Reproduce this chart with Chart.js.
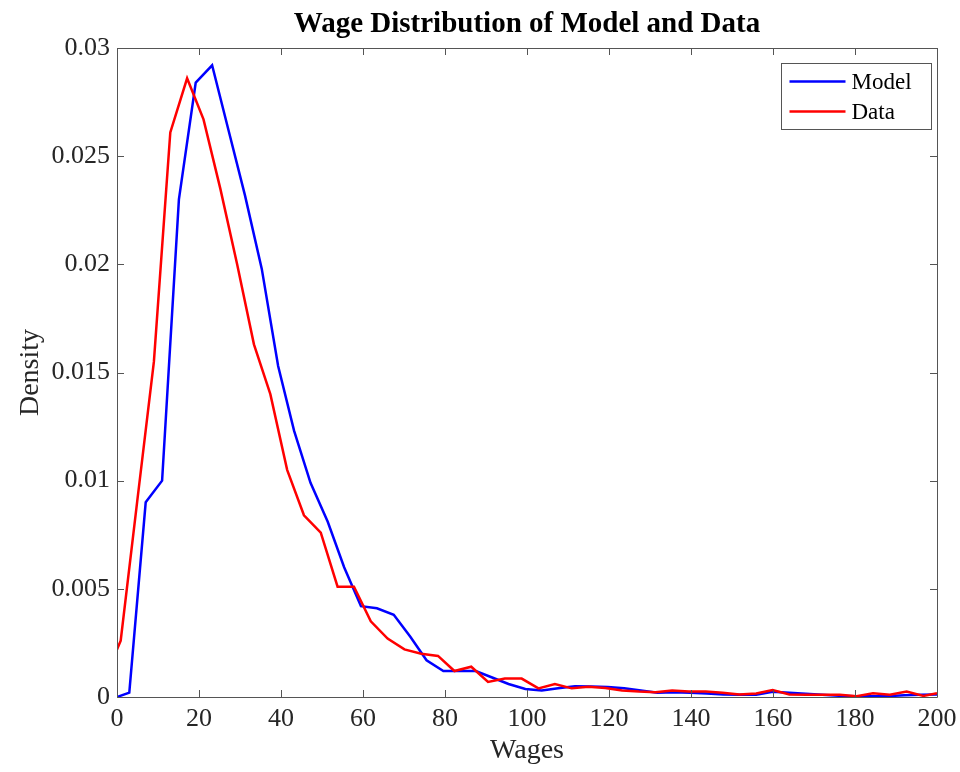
<!DOCTYPE html>
<html>
<head>
<meta charset="utf-8">
<script src="https://cdn.jsdelivr.net/npm/chart.js@4.4.1/dist/chart.umd.min.js"></script>
<style>
  html, body { margin: 0; padding: 0; background: #fff; }
  #wrap { width: 960px; height: 772px; }
</style>
</head>
<body>
<div id="wrap"><canvas id="c" width="960" height="772"></canvas></div>
<script>
// ---- Data ----
const modelWages = [0, 3, 7, 11, 15.1, 19.2, 23.2, 27.2, 31.2, 35.3, 39.3, 43.2, 47.2, 51.4, 55.4, 59.5, 63.4, 67.5, 71.5, 75.5, 79.6, 83.5, 87.5, 91.5, 95.5, 99.6, 103.6, 107.6, 111.7, 115.7, 119.7, 123.7, 127.8, 131.8, 135.8, 139.8, 143.9, 147.9, 151.9, 155.9, 159.9, 164, 168, 172, 176, 180, 184, 188, 192, 196, 200];
const modelDensity = [0, 0.0002, 0.0090, 0.0100, 0.0230, 0.0284, 0.0292, 0.0262, 0.0232, 0.0198, 0.0153, 0.0123, 0.0099, 0.0081, 0.0060, 0.0042, 0.0041, 0.0038, 0.0028, 0.0017, 0.0012, 0.0012, 0.0012, 0.0009, 0.0006, 0.00037, 0.0003, 0.0004, 0.0005, 0.00048, 0.00046, 0.0004, 0.0003, 0.0002, 0.00022, 0.0002, 0.00016, 0.00012, 0.0001, 0.0001, 0.00024, 0.0002, 0.00015, 0.0001, 0.00006, 0.00004, 0.00003, 0.00004, 0.00008, 0.0001, 0.00012];

const dataWages = [0, 0.9, 4.9, 9.0, 13.0, 17.1, 21.1, 25.2, 29.3, 33.4, 37.4, 41.5, 45.6, 49.7, 53.8, 57.8, 61.9, 66.0, 70.1, 74.2, 78.3, 82.3, 86.4, 90.5, 94.6, 98.7, 102.8, 106.8, 110.9, 115, 119.1, 123.2, 127.3, 131.3, 135.4, 139.5, 143.6, 147.7, 151.8, 155.9, 159.9, 164, 168.1, 172.2, 176.3, 180.4, 184.4, 188.5, 192.6, 196.7, 200];
const dataDensity = [0.0022, 0.0026, 0.0090, 0.0155, 0.0261, 0.0286, 0.0267, 0.0235, 0.0200, 0.0163, 0.0140, 0.0105, 0.0084, 0.0076, 0.0051, 0.0051, 0.0035, 0.0027, 0.0022, 0.0020, 0.0019, 0.0012, 0.0014, 0.0007, 0.00085, 0.00085, 0.0004, 0.0006, 0.0004, 0.00047, 0.00042, 0.0003, 0.00025, 0.00022, 0.0003, 0.00025, 0.00025, 0.0002, 0.00012, 0.00016, 0.00032, 0.00012, 0.0001, 0.0001, 0.0001, 0.00004, 0.00017, 0.0001, 0.00025, 0.00005, 0.00017];

const xTickLabels = ['0', '20', '40', '60', '80', '100', '120', '140', '160', '180', '200'];
const yTickLabels = ['0', '0.005', '0.01', '0.015', '0.02', '0.025', '0.03'];
const seriesNames = ['Model', 'Data'];
const seriesColors = ['#0000ff', '#ff0000'];

// ---- Helpers ----
const FONT = "'Liberation Serif', 'Times New Roman', serif";
const AXIS_COLOR = '#555555';
const TEXT_COLOR = '#262626';

function toPoints(xs, ys) { return xs.map((x, i) => ({ x: x, y: ys[i] })); }

const boxTicksPlugin = {
  id: 'boxTicks',
  afterDatasetsDraw(chart) {
    const ctx = chart.ctx;
    const a = chart.chartArea;
    const xs = chart.scales.x, ys = chart.scales.y;
    const L = 7;
    ctx.save();
    ctx.strokeStyle = AXIS_COLOR;
    ctx.lineWidth = 1;
    ctx.beginPath();
    ctx.rect(Math.round(a.left) + 0.5, Math.round(a.top) + 0.5, Math.round(a.right - a.left), Math.round(a.bottom - a.top));
    ctx.stroke();
    ctx.beginPath();
    xs.ticks.forEach(t => {
      const px = Math.round(xs.getPixelForValue(t.value)) + 0.5;
      ctx.moveTo(px, a.bottom); ctx.lineTo(px, a.bottom - L);
      ctx.moveTo(px, a.top); ctx.lineTo(px, a.top + L);
    });
    ys.ticks.forEach(t => {
      const py = Math.round(ys.getPixelForValue(t.value)) + 0.5;
      ctx.moveTo(a.left, py); ctx.lineTo(a.left + L, py);
      ctx.moveTo(a.right, py); ctx.lineTo(a.right - L, py);
    });
    ctx.stroke();
    ctx.restore();
  }
};

const boxLegendPlugin = {
  id: 'boxLegend',
  afterDatasetsDraw(chart) {
    const ctx = chart.ctx;
    const a = chart.chartArea;
    const w = 150, h = 66;
    const x0 = Math.round(a.right - 6 - w) + 0.5, y0 = Math.round(a.top + 15) + 0.5;
    ctx.save();
    ctx.fillStyle = '#ffffff';
    ctx.fillRect(x0, y0, w, h);
    ctx.strokeStyle = AXIS_COLOR;
    ctx.lineWidth = 1;
    ctx.strokeRect(x0, y0, w, h);
    ctx.font = '23px ' + FONT;
    ctx.textBaseline = 'middle';
    ctx.textAlign = 'left';
    seriesNames.forEach((name, i) => {
      const cy = y0 + 18 + i * 30;
      ctx.strokeStyle = seriesColors[i];
      ctx.lineWidth = 2.5;
      ctx.beginPath();
      ctx.moveTo(x0 + 8, cy); ctx.lineTo(x0 + 64, cy);
      ctx.stroke();
      ctx.fillStyle = '#000000';
      ctx.fillText(name, x0 + 70, cy + 1);
    });
    ctx.restore();
  }
};

new Chart(document.getElementById('c'), {
  type: 'line',
  data: {
    datasets: [
      { label: seriesNames[0], data: toPoints(modelWages, modelDensity), borderColor: seriesColors[0], backgroundColor: seriesColors[0], borderWidth: 2.5, pointRadius: 0, tension: 0, fill: false, order: 1 },
      { label: seriesNames[1], data: toPoints(dataWages, dataDensity), borderColor: seriesColors[1], backgroundColor: seriesColors[1], borderWidth: 2.5, pointRadius: 0, tension: 0, fill: false, order: 0 }
    ]
  },
  options: {
    responsive: false,
    animation: false,
    events: [],
    layout: { padding: { left: 0, right: 23, top: 0, bottom: 0 } },
    plugins: {
      legend: { display: false },
      tooltip: { enabled: false },
      title: {
        display: true,
        text: 'Wage Distribution of Model and Data',
        fullSize: false,
        color: '#000000',
        font: { family: FONT, size: 29, weight: 'bold', lineHeight: 1.2 },
        padding: { top: 7, bottom: 6.2 }
      }
    },
    scales: {
      x: {
        type: 'linear',
        min: 0, max: 200,
        ticks: {
          stepSize: 20,
          autoSkip: false,
          maxRotation: 0,
          padding: 7,
          color: TEXT_COLOR,
          font: { family: FONT, size: 26 },
          callback: (v, i) => xTickLabels[i]
        },
        grid: { display: false, drawTicks: false },
        border: { display: false },
        title: { display: true, text: 'Wages', color: TEXT_COLOR, font: { family: FONT, size: 28, lineHeight: 1.2 }, padding: { top: 0, bottom: 5 } },
        afterFit: s => { s.height = 75; s.paddingRight = 0; s.paddingLeft = 0; }
      },
      y: {
        type: 'linear',
        min: 0, max: 0.03,
        ticks: {
          stepSize: 0.005,
          autoSkip: false,
          padding: 7,
          color: TEXT_COLOR,
          font: { family: FONT, size: 26 },
          callback: (v, i) => yTickLabels[i]
        },
        grid: { display: false, drawTicks: false },
        border: { display: false },
        title: { display: true, text: 'Density', color: TEXT_COLOR, font: { family: FONT, size: 28, lineHeight: 1.2 }, padding: { top: 14, bottom: 0 } },
        afterFit: s => { s.width = 117; s.paddingTop = 0; s.paddingBottom = 0; }
      }
    }
  },
  plugins: [boxTicksPlugin, boxLegendPlugin]
});
</script>
</body>
</html>
